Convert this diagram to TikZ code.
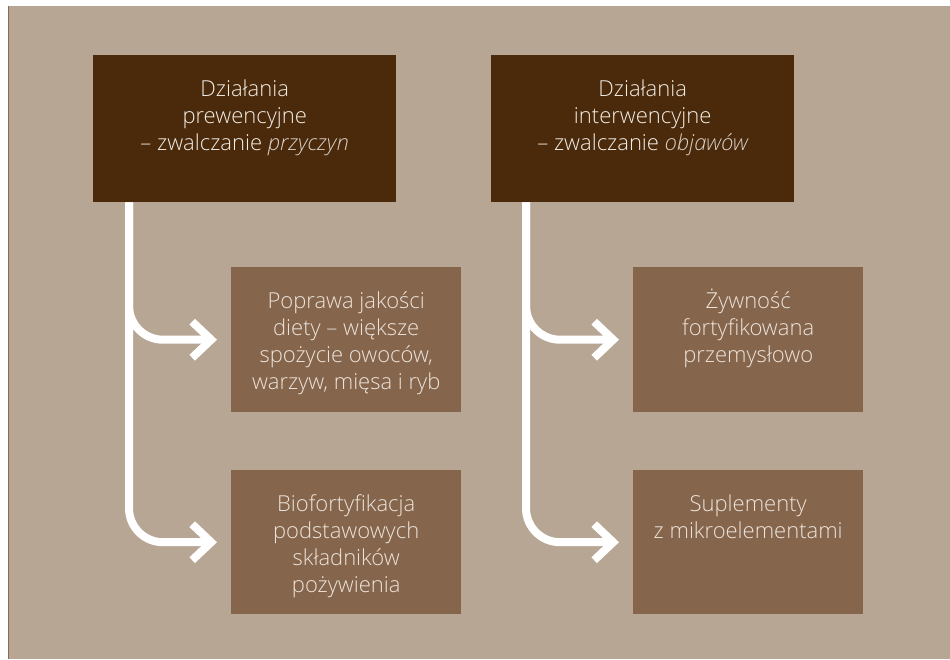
\documentclass[tikz,border=0pt]{standalone}
\usepackage{fontspec}
\setmainfont{Open Sans}[UprightFont={* Light}, ItalicFont={* Light Italic}]
\usetikzlibrary{arrows.meta}
\usetikzlibrary{positioning}
\definecolor{bgtan}{HTML}{B8A695}
\definecolor{edgebrown}{HTML}{8A6A50}
\definecolor{headbrown}{HTML}{4A2A0B}
\definecolor{itembrown}{HTML}{85664D}
\definecolor{headtext}{HTML}{F2EDE6}
\definecolor{headitalic}{HTML}{D9CFC6}
\definecolor{itemtext}{HTML}{EDE3DA}
\tikzstyle{headbox} = [fill=headbrown, text=headtext, inner sep=0pt, anchor=north west]
\tikzstyle{itembox} = [fill=itembrown, text=itemtext, inner sep=0pt, anchor=north west]
\tikzstyle{flow} = [white, line width=8pt, rounded corners=34pt, shorten >=14pt,
  -{Straight Barb[length=19pt, width=36pt]}]
\newcommand{\cellbody}[3]{\parbox[t][#2][t]{#1}{\centering\fontsize{22}{27}\selectfont\rule{0pt}{41pt}#3}}
\newcommand{\stress}[1]{\textcolor{headitalic}{\itshape #1}}

\begin{document}
\begin{tikzpicture}[x=1pt, y=-1pt]
  \useasboundingbox[fill=white] (0,0) rectangle (950,659);
  \fill[bgtan] (8,6) rectangle (950,659);
  \draw[edgebrown, line width=1pt] (8,6) -- (8,659);

  \node[headbox] (prev) at (93,55) {\cellbody{303pt}{147pt}{Działania\\prewencyjne\\– zwalczanie \stress{przyczyn}}};
  \node[headbox] (interv) at (491,55) {\cellbody{303pt}{147pt}{Działania\\interwencyjne\\– zwalczanie \stress{objawów}}};

  \node[itembox] (diet) at (231,267) {\cellbody{230pt}{145pt}{Poprawa jakości\\diety – większe\\spożycie owoców,\\warzyw, mięsa i ryb}};
  \node[itembox] (bio) at (231,470) {\cellbody{230pt}{144pt}{Biofortyfikacja\\podstawowych\\składników\\pożywienia}};
  \node[itembox] (food) at (633,267) {\cellbody{230pt}{145pt}{Żywność\\fortyfikowana\\przemysłowo}};
  \node[itembox] (suppl) at (633,470) {\cellbody{230pt}{144pt}{Suplementy\\z mikroelementami}};

  \coordinate (prevtrunk) at ([xshift=36pt]prev.south west);
  \coordinate (intervtrunk) at ([xshift=35pt]interv.south west);

  \draw[flow] (prevtrunk) |- (diet.west);
  \draw[flow] (prevtrunk) |- (bio.west);
  \draw[flow] (intervtrunk) |- (food.west);
  \draw[flow] (intervtrunk) |- (suppl.west);
\end{tikzpicture}
\end{document}
